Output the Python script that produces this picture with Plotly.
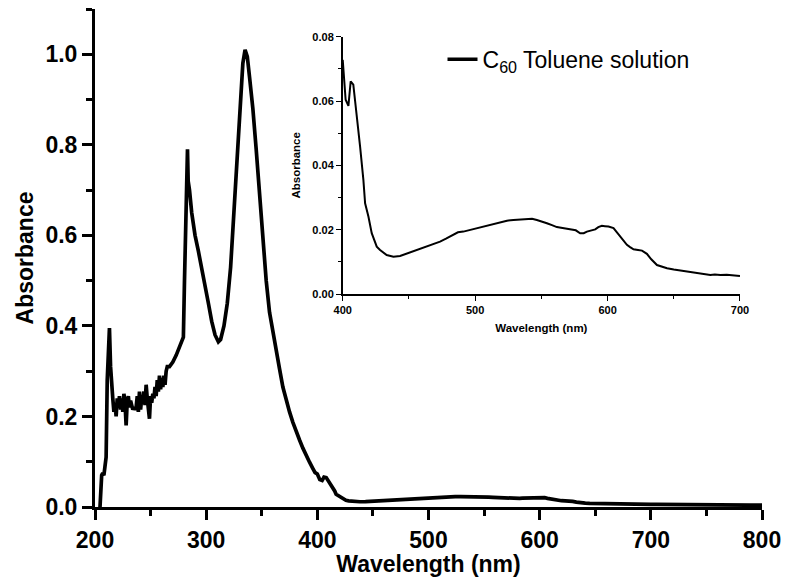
import plotly.graph_objects as go

# ---------------- data ----------------
wavelength = [
    204.5, 206, 207, 208, 209, 210, 211, 212, 213, 214, 215, 216,
    217, 218, 219, 220, 221, 222, 223, 224, 225, 226, 227, 228, 229, 230,
    231, 232, 233, 234, 235, 236, 237, 238, 239, 240, 241, 242, 243, 244,
    245, 246, 247, 248, 249, 250, 251, 252, 253, 254, 255, 256, 257, 258,
    259, 260, 261, 262, 263, 264, 265, 267, 270, 273, 276, 278, 279.5,
    280.5, 281.5, 282.5, 283.2, 283.8, 285, 287, 290, 293, 296, 299, 302,
    305, 308, 311, 313, 316, 319, 322, 325, 328, 331, 333, 335, 337, 339,
    342, 345, 348, 351, 354, 357, 360, 363, 366, 369, 372, 375, 378, 381,
    384, 387, 390, 393, 396, 398,
    400, 401.3, 402.2, 404.3, 406, 408, 410.5, 413.1, 415.6, 416.9, 419.4,
    421.9, 425.7, 428.2, 433.2, 438.3, 443.3, 448, 453.4, 458, 463.5, 468,
    473.5, 478, 483.6, 487, 491.1, 495, 498.7, 503, 508.8, 514, 518.9, 524,
    528.9, 534, 539, 543, 546.6, 550, 554.2, 558, 561.7, 566, 571.8, 576,
    579.3, 582, 584.4, 588, 590.7, 593, 595.7, 598, 600.7, 604.5, 607,
    609.6, 612, 614.6, 617, 619.6, 623, 626, 629.7, 633, 637.3, 641, 644.9,
    650, 655, 660, 665, 670, 675, 677.6, 681, 685.1, 690, 695, 700,
    705, 710, 715, 720, 725, 730, 735, 740, 745, 750, 755, 760, 765, 770,
    775, 780, 785, 790, 795, 800,
]
absorbance = [
    0.0, 0.07, 0.075, 0.07, 0.09, 0.11, 0.28, 0.36, 0.395, 0.31, 0.26, 0.24,
    0.21, 0.23, 0.20, 0.24, 0.22, 0.245, 0.215, 0.24, 0.21, 0.25, 0.23, 0.18,
    0.235, 0.245, 0.22, 0.235, 0.225, 0.215, 0.22, 0.215, 0.22, 0.245, 0.21,
    0.255, 0.215, 0.24, 0.235, 0.255, 0.225, 0.27, 0.24, 0.215, 0.195, 0.245,
    0.23, 0.25, 0.24, 0.265, 0.245, 0.28, 0.255, 0.29, 0.26, 0.285, 0.265,
    0.29, 0.27, 0.30, 0.31, 0.31, 0.32, 0.335, 0.355, 0.37, 0.375,
    0.50, 0.65, 0.76, 0.79, 0.72, 0.70, 0.65, 0.60, 0.565, 0.53, 0.49, 0.45,
    0.41, 0.38, 0.365, 0.37, 0.40, 0.45, 0.53, 0.65, 0.79, 0.92, 0.98, 1.01,
    0.995, 0.95, 0.88, 0.79, 0.69, 0.59, 0.50, 0.43, 0.385, 0.345, 0.305,
    0.265, 0.235, 0.21, 0.187, 0.165, 0.148, 0.13, 0.113, 0.099, 0.085, 0.076,
    0.0728, 0.0645, 0.0604, 0.0585, 0.0661, 0.0651, 0.0562, 0.0459, 0.0355,
    0.0282, 0.0241, 0.0189, 0.0147, 0.0137, 0.0121, 0.0116, 0.0118, 0.0125,
    0.0132, 0.0138, 0.0147, 0.0153, 0.0163, 0.0172, 0.0184, 0.0192, 0.0194,
    0.0198, 0.0201, 0.0207, 0.0212, 0.0216, 0.0222, 0.0228, 0.0230, 0.0232,
    0.0233, 0.0234, 0.0230, 0.0226, 0.0220, 0.0214, 0.0208, 0.0205, 0.0201,
    0.0198, 0.0189, 0.0189, 0.0194, 0.0197, 0.0201, 0.0208, 0.0212, 0.0211,
    0.0210, 0.0205, 0.0192, 0.0178, 0.0165, 0.0153, 0.0146, 0.0139, 0.0137,
    0.0135, 0.0125, 0.0108, 0.0090, 0.0085, 0.0080, 0.0076, 0.0073, 0.0070,
    0.0066, 0.0065, 0.0062, 0.0059, 0.0061, 0.0059, 0.0060, 0.0058, 0.0056,
    0.0057, 0.0055, 0.0052, 0.0055, 0.0050, 0.0048, 0.0052, 0.0047, 0.0049,
    0.0045, 0.0047, 0.0043, 0.0046, 0.0042, 0.0044, 0.0041, 0.0043, 0.0040,
    0.0042, 0.0040,
]
series_name = "C<sub>60</sub> Toluene solution"
main_x_ticks = [200, 300, 400, 500, 600, 700, 800]
main_y_ticks = [0.0, 0.2, 0.4, 0.6, 0.8, 1.0]
inset_x_ticks = [400, 500, 600, 700]
inset_y_ticks = [0.00, 0.02, 0.04, 0.06, 0.08]
inset_range = (400, 700)

inset_x = [w for w in wavelength if inset_range[0] <= w <= inset_range[1]]
inset_y = [a for w, a in zip(wavelength, absorbance) if inset_range[0] <= w <= inset_range[1]]

FONT = "Liberation Sans, Arial, sans-serif"

fig = go.Figure()
fig.add_trace(go.Scatter(
    x=wavelength, y=absorbance, mode="lines", name=series_name,
    line=dict(color="black", width=3.7), xaxis="x", yaxis="y",
    showlegend=True,
))
fig.add_trace(go.Scatter(
    x=inset_x, y=inset_y, mode="lines", name="inset",
    line=dict(color="black", width=2), xaxis="x2", yaxis="y2",
    showlegend=False,
))

big_tick = dict(family=FONT, size=23, color="black", weight="bold")
small_tick = dict(family=FONT, size=11, color="black", weight="bold")

fig.update_layout(
    width=786, height=577,
    margin=dict(l=95, r=24, t=9, b=70, autoexpand=False),
    paper_bgcolor="white", plot_bgcolor="white",
    font=dict(family=FONT, color="black"),
    xaxis=dict(
        domain=[0, 1], range=[200, 800], anchor="y",
        tickvals=main_x_ticks, ticks="outside", ticklen=10, tickwidth=2.5,
        tickcolor="black", tickfont=big_tick,
        minor=dict(dtick=50, tick0=200, ticks="outside", ticklen=6, tickwidth=2.5, tickcolor="black"),
        showline=True, linecolor="black", linewidth=3, showgrid=False, zeroline=False,
        title=dict(text="Wavelength (nm)", font=dict(family=FONT, size=23, color="black", weight="bold"), standoff=6),
    ),
    yaxis=dict(
        domain=[0, 1], range=[0, 1.1], anchor="x",
        tickvals=main_y_ticks, tickformat=".1f", ticks="outside", ticklen=10, tickwidth=2.5,
        tickcolor="black", tickfont=big_tick,
        minor=dict(dtick=0.1, tick0=0, ticks="outside", ticklen=6, tickwidth=2.5, tickcolor="black"),
        showline=True, linecolor="black", linewidth=3, showgrid=False, zeroline=False,
        title=dict(text="Absorbance", font=dict(family=FONT, size=23, color="black", weight="bold"), standoff=6),
    ),
    xaxis2=dict(
        domain=[0.3714, 0.967], range=list(inset_range), anchor="y2",
        tickvals=inset_x_ticks, ticks="outside", ticklen=5, tickwidth=1.2,
        tickcolor="black", tickfont=small_tick,
        minor=dict(dtick=50, tick0=400, ticks="outside", ticklen=3, tickwidth=1.2, tickcolor="black"),
        showline=True, linecolor="black", linewidth=1.5, showgrid=False, zeroline=False,
        title=dict(text="Wavelength (nm)", font=dict(family=FONT, size=11.5, color="black", weight="bold"), standoff=9),
    ),
    yaxis2=dict(
        domain=[0.4277, 0.9444], range=[0, 0.08], anchor="x2",
        tickvals=inset_y_ticks, tickformat=".2f", ticks="outside", ticklen=5, tickwidth=1.2,
        tickcolor="black", tickfont=small_tick,
        minor=dict(dtick=0.01, tick0=0, ticks="outside", ticklen=3, tickwidth=1.2, tickcolor="black"),
        showline=True, linecolor="black", linewidth=1.5, showgrid=False, zeroline=False,
        title=dict(text="Absorbance", font=dict(family=FONT, size=11.5, color="black", weight="bold"), standoff=9),
    ),
    legend=dict(
        x=0.521, y=0.899, xanchor="left", yanchor="middle",
        bgcolor="rgba(0,0,0,0)", borderwidth=0,
        font=dict(family=FONT, size=23, color="black"),
        itemwidth=30,
    ),
)

fig.write_html(
    "out.html",
    config={"displayModeBar": False},
    post_script="document.body.style.margin='0';document.body.style.overflow='hidden';",
)
